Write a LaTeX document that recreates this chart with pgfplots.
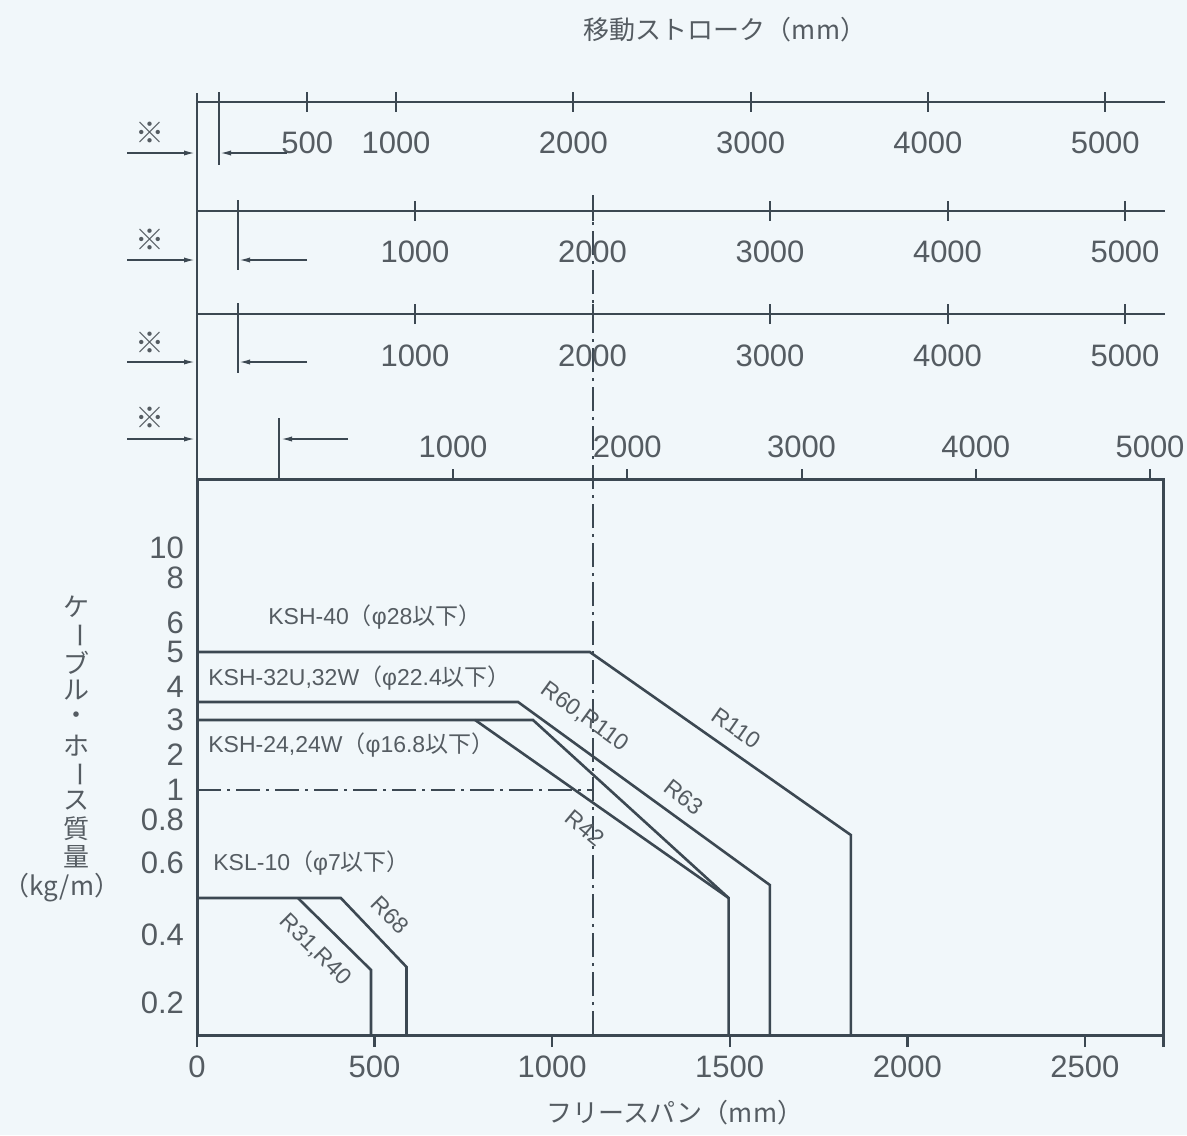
\documentclass[border=0pt]{standalone}
\usepackage{pgfplots}
\pgfplotsset{compat=1.18}
\usepackage{fontspec}
\setmainfont{Liberation Sans}
\newfontfamily\jp{Noto Sans CJK JP}
\usetikzlibrary{arrows.meta}
\definecolor{ln}{RGB}{60,72,82}
\definecolor{tx}{RGB}{85,92,98}
\definecolor{bg}{RGB}{241,247,250}
\newcommand{\tf}{\fontsize{15.5}{16}\selectfont}
\newcommand{\lf}{\fontsize{11.5}{12}\selectfont}
\newcommand{\hf}{\jp\fontsize{13}{13}\selectfont}

\pgfplotsset{
  rowaxis/.style={
    scale only axis, height=1pt,
    ymin=0, ymax=1, ytick=\empty,
    axis y line=none,
    tick style={ln, line width=1pt},
    tick label style={font=\tf, text=tx},
    clip=false,
  },
  noarrow/.style={
    axis line style={ln, line width=1.2pt, -},
    x axis line style={-},
    every outer x axis line/.append style={-},
    every inner x axis line/.append style={-},
  }
}

\begin{document}
\begin{tikzpicture}
\fill[bg] (0,0) rectangle (593.5pt,-567.5pt);
\useasboundingbox (0,0) rectangle (593.5pt,-567.5pt);

% ---------- main axis ----------
\begin{axis}[
  at={(98.5pt,-517.5pt)}, anchor=south west,
  scale only axis, width=483pt, height=277.5pt,
  xmin=0, xmax=2720, ymin=0, ymax=555,
  axis line style={ln, line width=1.5pt},
  xtick={0,500,1000,1500,2000,2500},
  xticklabels={0,500,1000,1500,2000,2500},
  extra x ticks={2720}, extra x tick labels={},
  extra x tick style={tick style={ln, line width=1.5pt}},
  xtick pos=bottom, tick align=outside, major tick length=6pt,
  tick style={ln, line width=1.2pt},
  ytick={32,100,172,215,245,280,315,348,383,412,457,487},
  yticklabels={0.2,0.4,0.6,0.8,1,2,3,4,5,6,8,10},
  ytick style={draw=none},
  tick label style={font=\tf, text=tx},
  xticklabel style={yshift=-1pt},
  yticklabel style={xshift=3pt},
  clip=false,
]
\addplot[ln, line width=1.3pt] coordinates {(0,383) (1106,383) (1841,200) (1841,0)};
\addplot[ln, line width=1.3pt] coordinates {(0,333) (904,333) (1613,150) (1613,0)};
\addplot[ln, line width=1.3pt] coordinates {(0,315) (946,315) (1497,137) (1497,0)};
\addplot[ln, line width=1.3pt] coordinates {(783,315) (1497,137)};
\addplot[ln, line width=1.3pt] coordinates {(0,137) (405,137) (590,68) (590,0)};
\addplot[ln, line width=1.3pt] coordinates {(284,137) (490,65) (490,0)};
\draw[ln, line width=1pt, dash pattern=on 12pt off 3pt on 1.5pt off 3pt] (axis cs:1115,0) -- (axis cs:1115,840);
\draw[ln, line width=1pt, dash pattern=on 12pt off 3pt on 1.5pt off 3pt] (axis cs:0,245) -- (axis cs:1115,245);
\end{axis}

% ---------- stroke scale rows ----------
\begin{axis}[rowaxis,
  at={(98.5pt,-51pt)}, anchor=south west, width=484pt,
  xmin=-122.4, xmax=5337,
  axis x line=bottom, noarrow, tick align=center, major tick length=10pt,
  xtick={500,1000,2000,3000,4000,5000},
  xticklabels={500,1000,2000,3000,4000,5000},
  xticklabel style={yshift=-6.5pt},
]
\end{axis}

\begin{axis}[rowaxis,
  at={(98.5pt,-105.5pt)}, anchor=south west, width=484pt,
  xmin=-228.2, xmax=5225.4,
  axis x line=bottom, noarrow, tick align=center, major tick length=10pt,
  xtick={1000,2000,3000,4000,5000},
  xticklabels={1000,2000,3000,4000,5000},
  xticklabel style={yshift=-6.5pt},
]
\end{axis}

\begin{axis}[rowaxis,
  at={(98.5pt,-157pt)}, anchor=south west, width=484pt,
  xmin=-228.2, xmax=5225.4,
  axis x line=bottom, noarrow, tick align=center, major tick length=10pt,
  xtick={1000,2000,3000,4000,5000},
  xticklabels={1000,2000,3000,4000,5000},
  xticklabel style={yshift=-7pt},
]
\end{axis}

\begin{axis}[rowaxis,
  at={(98.5pt,-240pt)}, anchor=north west, width=483pt,
  xmin=-469.2, xmax=5074.6,
  axis x line=top, noarrow, tick align=outside, major tick length=5.5pt,
  axis line style={draw=none},
  xtick={1000,2000,3000,4000,5000},
  xticklabels={1000,2000,3000,4000,5000},
  xticklabel style={yshift=2pt},
]
\end{axis}

% ---------- annotations ----------
\begin{scope}[x=0.5pt, y=-0.5pt]
\draw[ln, line width=1.2pt] (197,93) -- (197,480);
% stroke offset markers
\draw[ln, line width=1pt] (218.7,92) -- (218.7,165);
\draw[ln, line width=1pt] (237.5,200) -- (237.5,270);
\draw[ln, line width=1pt] (237.5,303) -- (237.5,373);
\draw[ln, line width=1pt] (279,418) -- (279,480);
\begin{scope}[ln, line width=0.8pt, -{Latex[length=5.5pt,width=2.6pt]}]
\draw (127,153) -- (195,153);
\draw (287,153) -- (220,153);
\draw (127,260) -- (195,260);
\draw (307,260) -- (239,260);
\draw (127,362) -- (195,362);
\draw (307,362) -- (239,362);
\draw (127,439) -- (195,439);
\draw (348,439) -- (281,439);
\end{scope}
\foreach \yy in {133,240,343,418}
  \node[text=tx, font=\jp\fontsize{14.5}{14.5}\selectfont] at (150,\yy) {※};

% titles
\node[text=tx, font=\hf] at (725,30) {移動ストローク（mm）};
\node[text=tx, font=\hf] at (675,1113) {フリースパン（mm）};
\foreach \c/\yy in {ケ/607, ブ/663, ル/690, ・/718, ホ/746, ス/801, 質/829, 量/857}
  \node[text=tx, font=\hf] at (76,\yy) {\c};
\node[text=tx, font=\hf, rotate=-90] at (76,635) {ー};
\node[text=tx, font=\hf, rotate=-90] at (76,774) {ー};
\node[text=tx, font=\hf] at (62,888) {（kg/m）};

% series labels
\node[text=tx, font=\lf, anchor=west, inner sep=0pt] at (268,617) {KSH-40{\jp（}φ28{\jp 以下）}};
\node[text=tx, font=\lf, anchor=west, inner sep=0pt] at (208,678) {KSH-32U,32W{\jp（}φ22.4{\jp 以下）}};
\node[text=tx, font=\lf, anchor=west, inner sep=0pt] at (208,745) {KSH-24,24W{\jp（}φ16.8{\jp 以下）}};
\node[text=tx, font=\lf, anchor=west, inner sep=0pt] at (213,863) {KSL-10{\jp（}φ7{\jp 以下）}};
\node[text=tx, font=\lf, rotate=-35, inner sep=0pt] at (736,728) {R110};
\node[text=tx, font=\lf, rotate=-36, inner sep=0pt] at (585,717) {R60,R110};
\node[text=tx, font=\lf, rotate=-38, inner sep=0pt] at (684,797) {R63};
\node[text=tx, font=\lf, rotate=-40, inner sep=0pt] at (585,828) {R42};
\node[text=tx, font=\lf, rotate=-45, inner sep=0pt] at (390,915) {R68};
\node[text=tx, font=\lf, rotate=-45, inner sep=0pt] at (315,950) {R31,R40};
\end{scope}
\end{tikzpicture}
\end{document}
